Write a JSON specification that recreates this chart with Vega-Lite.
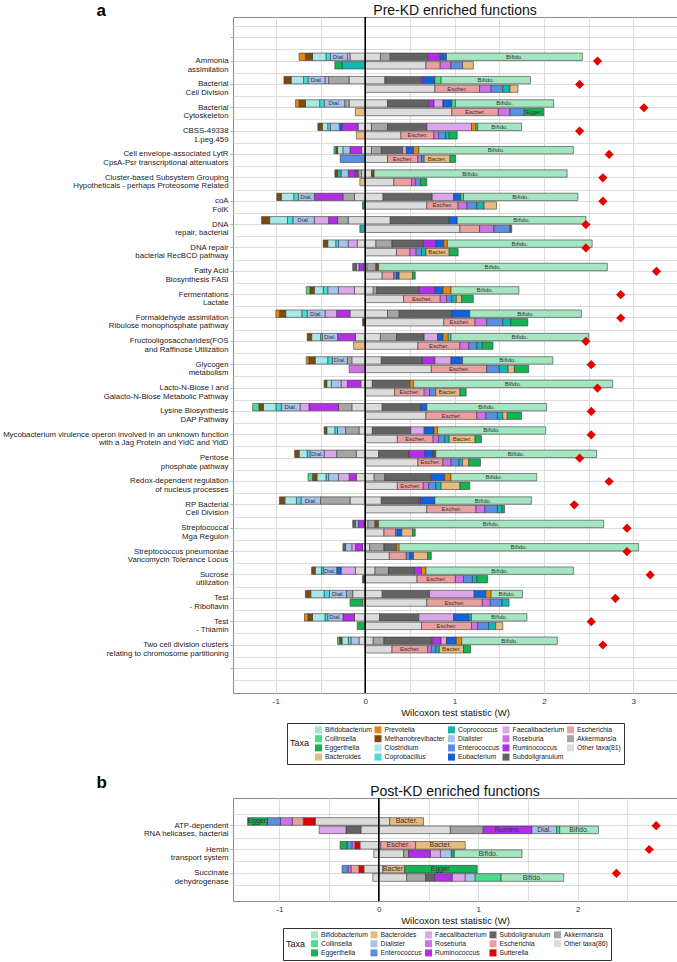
{
"$schema":"https://vega.github.io/schema/vega-lite/v6.json",
"padding":{"left":2,"top":0,"right":0,"bottom":0},
"config":{"font":"Liberation Sans","view":{"stroke":"#8c8c8c"},"title":{"fontSize":14,"fontWeight":"normal","color":"#111"}},
"datasets":{
"taxa":[{"c":"Bif","n":"Bifidobacterium"},{"c":"Col","n":"Collinsella"},{"c":"Egg","n":"Eggerthella"},{"c":"Bac","n":"Bacteroides"},{"c":"Pre","n":"Prevotella"},{"c":"Met","n":"Methanobrevibacter"},{"c":"Clo","n":"Clostridium"},{"c":"Cpb","n":"Coprobacillus"},{"c":"Cpc","n":"Coprococcus"},{"c":"Dia","n":"Dialister"},{"c":"Ent","n":"Enterococcus"},{"c":"Eub","n":"Eubacterium"},{"c":"Fae","n":"Faecalibacterium"},{"c":"Ros","n":"Roseburia"},{"c":"Rum","n":"Ruminococcus"},{"c":"Sub","n":"Subdoligranulum"},{"c":"Esc","n":"Escherichia"},{"c":"Akk","n":"Akkermansia"},{"c":"Oth","n":"Other taxa(81)"},{"c":"Ob","n":"Other taxa(86)"},{"c":"Sut","n":"Sutterella"}],
"fa":[{"f":1,"fn":"Ammonia|assimilation","w":2.6},{"f":2,"fn":"Bacterial|Cell Division","w":2.4},{"f":3,"fn":"Bacterial|Cytoskeleton","w":3.12},{"f":4,"fn":"CBSS-49338|1.peg.459","w":2.4},{"f":5,"fn":"Cell envelope-associated LytR|CpsA-Psr transcriptional attenuators","w":2.73},{"f":6,"fn":"Cluster-based Subsystem Grouping|Hypotheticals - perhaps Proteosome Related","w":2.66},{"f":7,"fn":"coA|FolK","w":2.66},{"f":8,"fn":"DNA|repair, bacterial","w":2.47},{"f":9,"fn":"DNA repair|bacterial RecBCD pathway","w":2.47},{"f":10,"fn":"Fatty Acid|Biosynthesis FASI","w":3.26},{"f":11,"fn":"Fermentations|Lactate","w":2.86},{"f":12,"fn":"Formaldehyde assimilation|Ribulose monophosphate pathway","w":2.86},{"f":13,"fn":"Fructooligosaccharides(FOS|and Raffinose Utilization","w":2.47},{"f":14,"fn":"Glycogen|metabolism","w":2.53},{"f":15,"fn":"Lacto-N-Biose I and|Galacto-N-Biose Metabolic Pathway","w":2.6},{"f":16,"fn":"Lysine Biosynthesis|DAP Pathway","w":2.53},{"f":17,"fn":"Mycobacterium virulence operon involved in an unknown function|with a Jag Protein and YidC and YidD","w":2.53},{"f":18,"fn":"Pentose|phosphate pathway","w":2.4},{"f":19,"fn":"Redox-dependent regulation|of nucleus processes","w":2.73},{"f":20,"fn":"RP Bacterial|Cell Division","w":2.34},{"f":21,"fn":"Streptococcal|Mga Regulon","w":2.93},{"f":22,"fn":"Streptococcus pneumoniae|Vancomycin Tolerance Locus","w":2.93},{"f":23,"fn":"Sucrose|utilization","w":3.19},{"f":24,"fn":"Test|- Riboflavin","w":2.8},{"f":25,"fn":"Test|- Thiamin","w":2.53},{"f":26,"fn":"Two cell division clusters|relating to chromosome partitioning","w":2.66}],
"fb":[{"f":1,"fn":"ATP-dependent|RNA helicases, bacterial","w":2.79},{"f":2,"fn":"Hemin|transport system","w":2.72},{"f":3,"fn":"Succinate|dehydrogenase","w":2.39}],
"ra":[
{"f":1,"b":"u","t":"Oth","v":-0.17},{"f":1,"b":"u","t":"Fae","v":-0.03},{"f":1,"b":"u","t":"Dia","v":-0.19,"lb":"Dial."},{"f":1,"b":"u","t":"Cpb","v":-0.05},{"f":1,"b":"u","t":"Clo","v":-0.15},{"f":1,"b":"u","t":"Met","v":-0.08},{"f":1,"b":"u","t":"Pre","v":-0.07},{"f":1,"b":"u","t":"Oth","v":0.17},{"f":1,"b":"u","t":"Akk","v":0.11},{"f":1,"b":"u","t":"Sub","v":0.42},{"f":1,"b":"u","t":"Rum","v":0.14},{"f":1,"b":"u","t":"Eub","v":0.07},{"f":1,"b":"u","t":"Bif","v":1.52,"lb":"Bifido."},
{"f":1,"b":"l","t":"Cpc","v":-0.26},{"f":1,"b":"l","t":"Egg","v":-0.08},{"f":1,"b":"l","t":"Oth","v":0.68},{"f":1,"b":"l","t":"Esc","v":0.16},{"f":1,"b":"l","t":"Ros","v":0.12},{"f":1,"b":"l","t":"Ent","v":0.13},{"f":1,"b":"l","t":"Bac","v":0.12},
{"f":2,"b":"u","t":"Oth","v":-0.18},{"f":2,"b":"u","t":"Akk","v":-0.23},{"f":2,"b":"u","t":"Fae","v":-0.04},{"f":2,"b":"u","t":"Dia","v":-0.19,"lb":"Dial."},{"f":2,"b":"u","t":"Cpb","v":-0.05},{"f":2,"b":"u","t":"Clo","v":-0.14},{"f":2,"b":"u","t":"Met","v":-0.08},{"f":2,"b":"u","t":"Oth","v":0.22},{"f":2,"b":"u","t":"Sub","v":0.41},{"f":2,"b":"u","t":"Rum","v":0.02},{"f":2,"b":"u","t":"Eub","v":0.13},{"f":2,"b":"u","t":"Col","v":0.07},{"f":2,"b":"u","t":"Bif","v":1.0,"lb":"Bifido."},
{"f":2,"b":"l","t":"Oth","v":0.78},{"f":2,"b":"l","t":"Esc","v":0.5,"lb":"Escher."},{"f":2,"b":"l","t":"Ros","v":0.13},{"f":2,"b":"l","t":"Ent","v":0.13},{"f":2,"b":"l","t":"Cpc","v":0.08},{"f":2,"b":"l","t":"Bac","v":0.09},
{"f":3,"b":"u","t":"Oth","v":-0.18},{"f":3,"b":"u","t":"Akk","v":-0.05},{"f":3,"b":"u","t":"Dia","v":-0.23,"lb":"Dial."},{"f":3,"b":"u","t":"Cpb","v":-0.05},{"f":3,"b":"u","t":"Clo","v":-0.16},{"f":3,"b":"u","t":"Met","v":-0.07},{"f":3,"b":"u","t":"Pre","v":-0.04},{"f":3,"b":"u","t":"Oth","v":0.25},{"f":3,"b":"u","t":"Sub","v":0.46},{"f":3,"b":"u","t":"Rum","v":0.06},{"f":3,"b":"u","t":"Fae","v":0.1},{"f":3,"b":"u","t":"Eub","v":0.1},{"f":3,"b":"u","t":"Col","v":0.04},{"f":3,"b":"u","t":"Bif","v":1.1,"lb":"Bifido."},
{"f":3,"b":"l","t":"Bac","v":-0.11},{"f":3,"b":"l","t":"Oth","v":0.97},{"f":3,"b":"l","t":"Esc","v":0.52,"lb":"Escher."},{"f":3,"b":"l","t":"Ros","v":0.13},{"f":3,"b":"l","t":"Ent","v":0.16},{"f":3,"b":"l","t":"Egg","v":0.22,"lb":"Egger."},
{"f":4,"b":"u","t":"Oth","v":-0.08},{"f":4,"b":"u","t":"Rum","v":-0.18},{"f":4,"b":"u","t":"Eub","v":-0.03},{"f":4,"b":"u","t":"Dia","v":-0.1},{"f":4,"b":"u","t":"Cpb","v":-0.03},{"f":4,"b":"u","t":"Clo","v":-0.06},{"f":4,"b":"u","t":"Met","v":-0.05},{"f":4,"b":"u","t":"Oth","v":0.07},{"f":4,"b":"u","t":"Akk","v":0.18},{"f":4,"b":"u","t":"Sub","v":0.44},{"f":4,"b":"u","t":"Fae","v":0.5},{"f":4,"b":"u","t":"Pre","v":0.05},{"f":4,"b":"u","t":"Col","v":0.02},{"f":4,"b":"u","t":"Bif","v":0.49,"lb":"Bifido."},
{"f":4,"b":"l","t":"Bac","v":-0.1},{"f":4,"b":"l","t":"Oth","v":0.4},{"f":4,"b":"l","t":"Esc","v":0.37,"lb":"Escher."},{"f":4,"b":"l","t":"Ros","v":0.05},{"f":4,"b":"l","t":"Ent","v":0.08},{"f":4,"b":"l","t":"Cpc","v":0.04},{"f":4,"b":"l","t":"Egg","v":0.09},
{"f":5,"b":"u","t":"Oth","v":-0.04},{"f":5,"b":"u","t":"Rum","v":-0.13},{"f":5,"b":"u","t":"Dia","v":-0.08},{"f":5,"b":"u","t":"Clo","v":-0.06},{"f":5,"b":"u","t":"Met","v":-0.02},{"f":5,"b":"u","t":"Col","v":-0.02},{"f":5,"b":"u","t":"Oth","v":0.07},{"f":5,"b":"u","t":"Akk","v":0.11},{"f":5,"b":"u","t":"Sub","v":0.24},{"f":5,"b":"u","t":"Fae","v":0.04},{"f":5,"b":"u","t":"Eub","v":0.08},{"f":5,"b":"u","t":"Pre","v":0.06},{"f":5,"b":"u","t":"Bif","v":1.73,"lb":"Bifido."},
{"f":5,"b":"l","t":"Ent","v":-0.28},{"f":5,"b":"l","t":"Oth","v":0.25},{"f":5,"b":"l","t":"Esc","v":0.34,"lb":"Escher."},{"f":5,"b":"l","t":"Ros","v":0.04},{"f":5,"b":"l","t":"Cpc","v":0.03},{"f":5,"b":"l","t":"Bac","v":0.29,"lb":"Bacter."},{"f":5,"b":"l","t":"Egg","v":0.06},
{"f":6,"b":"u","t":"Oth","v":-0.04},{"f":6,"b":"u","t":"Akk","v":-0.04},{"f":6,"b":"u","t":"Sub","v":-0.03},{"f":6,"b":"u","t":"Rum","v":-0.08},{"f":6,"b":"u","t":"Dia","v":-0.08},{"f":6,"b":"u","t":"Cpc","v":-0.04},{"f":6,"b":"u","t":"Met","v":-0.03},{"f":6,"b":"u","t":"Oth","v":0.07},{"f":6,"b":"u","t":"Met","v":0.03},{"f":6,"b":"u","t":"Bif","v":2.16,"lb":"Bifido."},
{"f":6,"b":"l","t":"Bac","v":-0.06},{"f":6,"b":"l","t":"Oth","v":0.32},{"f":6,"b":"l","t":"Esc","v":0.2},{"f":6,"b":"l","t":"Ros","v":0.04},{"f":6,"b":"l","t":"Ent","v":0.06},{"f":6,"b":"l","t":"Egg","v":0.07},
{"f":7,"b":"u","t":"Oth","v":-0.12},{"f":7,"b":"u","t":"Akk","v":-0.13},{"f":7,"b":"u","t":"Rum","v":-0.32},{"f":7,"b":"u","t":"Dia","v":-0.18,"lb":"Dial."},{"f":7,"b":"u","t":"Cpb","v":-0.05},{"f":7,"b":"u","t":"Clo","v":-0.14},{"f":7,"b":"u","t":"Met","v":-0.05},{"f":7,"b":"u","t":"Oth","v":0.2},{"f":7,"b":"u","t":"Sub","v":0.55},{"f":7,"b":"u","t":"Fae","v":0.24},{"f":7,"b":"u","t":"Eub","v":0.08},{"f":7,"b":"u","t":"Col","v":0.03},{"f":7,"b":"u","t":"Bif","v":1.28,"lb":"Bifido."},
{"f":7,"b":"l","t":"Egg","v":-0.03},{"f":7,"b":"l","t":"Oth","v":0.69},{"f":7,"b":"l","t":"Esc","v":0.35,"lb":"Escher."},{"f":7,"b":"l","t":"Ros","v":0.1},{"f":7,"b":"l","t":"Ent","v":0.11},{"f":7,"b":"l","t":"Cpc","v":0.08},{"f":7,"b":"l","t":"Bac","v":0.14},
{"f":8,"b":"u","t":"Oth","v":-0.19},{"f":8,"b":"u","t":"Akk","v":-0.12},{"f":8,"b":"u","t":"Rum","v":-0.1},{"f":8,"b":"u","t":"Fae","v":-0.16},{"f":8,"b":"u","t":"Dia","v":-0.24,"lb":"Dial."},{"f":8,"b":"u","t":"Cpb","v":-0.06},{"f":8,"b":"u","t":"Clo","v":-0.2},{"f":8,"b":"u","t":"Met","v":-0.09},{"f":8,"b":"u","t":"Oth","v":0.28},{"f":8,"b":"u","t":"Sub","v":0.66},{"f":8,"b":"u","t":"Eub","v":0.09},{"f":8,"b":"u","t":"Bif","v":1.44,"lb":"Bifido."},
{"f":8,"b":"l","t":"Cpc","v":-0.06},{"f":8,"b":"l","t":"Oth","v":1.06},{"f":8,"b":"l","t":"Esc","v":0.22},{"f":8,"b":"l","t":"Ros","v":0.16},{"f":8,"b":"l","t":"Ent","v":0.18},{"f":8,"b":"l","t":"Sub","v":0.02},
{"f":9,"b":"u","t":"Oth","v":-0.09},{"f":9,"b":"u","t":"Fae","v":-0.1},{"f":9,"b":"u","t":"Dia","v":-0.11},{"f":9,"b":"u","t":"Cpb","v":-0.03},{"f":9,"b":"u","t":"Clo","v":-0.09},{"f":9,"b":"u","t":"Met","v":-0.05},{"f":9,"b":"u","t":"Oth","v":0.12},{"f":9,"b":"u","t":"Akk","v":0.18},{"f":9,"b":"u","t":"Sub","v":0.35},{"f":9,"b":"u","t":"Rum","v":0.14},{"f":9,"b":"u","t":"Eub","v":0.09},{"f":9,"b":"u","t":"Pre","v":0.04},{"f":9,"b":"u","t":"Bif","v":1.62,"lb":"Bifido."},
{"f":9,"b":"l","t":"Oth","v":0.35},{"f":9,"b":"l","t":"Esc","v":0.15},{"f":9,"b":"l","t":"Ros","v":0.07},{"f":9,"b":"l","t":"Ent","v":0.06},{"f":9,"b":"l","t":"Cpc","v":0.05},{"f":9,"b":"l","t":"Bac","v":0.26,"lb":"Bacter."},{"f":9,"b":"l","t":"Egg","v":0.1},
{"f":10,"b":"u","t":"Oth","v":-0.02},{"f":10,"b":"u","t":"Rum","v":-0.05},{"f":10,"b":"u","t":"Dia","v":-0.03},{"f":10,"b":"u","t":"Sub","v":-0.04},{"f":10,"b":"u","t":"Oth","v":0.02},{"f":10,"b":"u","t":"Akk","v":0.1},{"f":10,"b":"u","t":"Met","v":0.03},{"f":10,"b":"u","t":"Bif","v":2.56,"lb":"Bifido."},
{"f":10,"b":"l","t":"Oth","v":0.19},{"f":10,"b":"l","t":"Esc","v":0.13},{"f":10,"b":"l","t":"Ent","v":0.03},{"f":10,"b":"l","t":"Eub","v":0.03},{"f":10,"b":"l","t":"Bac","v":0.15},{"f":10,"b":"l","t":"Egg","v":0.03},
{"f":11,"b":"u","t":"Oth","v":-0.12},{"f":11,"b":"u","t":"Fae","v":-0.18},{"f":11,"b":"u","t":"Dia","v":-0.12},{"f":11,"b":"u","t":"Cpb","v":-0.05},{"f":11,"b":"u","t":"Clo","v":-0.1},{"f":11,"b":"u","t":"Met","v":-0.05},{"f":11,"b":"u","t":"Col","v":-0.04},{"f":11,"b":"u","t":"Oth","v":0.09},{"f":11,"b":"u","t":"Akk","v":0.04},{"f":11,"b":"u","t":"Sub","v":0.47},{"f":11,"b":"u","t":"Rum","v":0.18},{"f":11,"b":"u","t":"Eub","v":0.09},{"f":11,"b":"u","t":"Pre","v":0.09},{"f":11,"b":"u","t":"Bif","v":0.76,"lb":"Bifido."},
{"f":11,"b":"l","t":"Oth","v":0.43},{"f":11,"b":"l","t":"Esc","v":0.41,"lb":"Escher."},{"f":11,"b":"l","t":"Ros","v":0.07},{"f":11,"b":"l","t":"Ent","v":0.06},{"f":11,"b":"l","t":"Cpc","v":0.05},{"f":11,"b":"l","t":"Bac","v":0.06},{"f":11,"b":"l","t":"Egg","v":0.13},
{"f":12,"b":"u","t":"Oth","v":-0.17},{"f":12,"b":"u","t":"Rum","v":-0.15},{"f":12,"b":"u","t":"Fae","v":-0.13},{"f":12,"b":"u","t":"Dia","v":-0.2,"lb":"Dial."},{"f":12,"b":"u","t":"Cpb","v":-0.06},{"f":12,"b":"u","t":"Clo","v":-0.18},{"f":12,"b":"u","t":"Met","v":-0.07},{"f":12,"b":"u","t":"Pre","v":-0.04},{"f":12,"b":"u","t":"Oth","v":0.25},{"f":12,"b":"u","t":"Akk","v":0.13},{"f":12,"b":"u","t":"Sub","v":0.59},{"f":12,"b":"u","t":"Eub","v":0.2},{"f":12,"b":"u","t":"Bif","v":1.25,"lb":"Bifido."},
{"f":12,"b":"l","t":"Met","v":-0.03},{"f":12,"b":"l","t":"Oth","v":0.88},{"f":12,"b":"l","t":"Esc","v":0.35,"lb":"Escher."},{"f":12,"b":"l","t":"Ros","v":0.13},{"f":12,"b":"l","t":"Ent","v":0.18},{"f":12,"b":"l","t":"Cpc","v":0.09},{"f":12,"b":"l","t":"Egg","v":0.19},
{"f":13,"b":"u","t":"Oth","v":-0.11},{"f":13,"b":"u","t":"Rum","v":-0.2},{"f":13,"b":"u","t":"Dia","v":-0.17,"lb":"Dial."},{"f":13,"b":"u","t":"Cpb","v":-0.02},{"f":13,"b":"u","t":"Clo","v":-0.1},{"f":13,"b":"u","t":"Met","v":-0.05},{"f":13,"b":"u","t":"Oth","v":0.17},{"f":13,"b":"u","t":"Akk","v":0.18},{"f":13,"b":"u","t":"Sub","v":0.31},{"f":13,"b":"u","t":"Fae","v":0.15},{"f":13,"b":"u","t":"Eub","v":0.06},{"f":13,"b":"u","t":"Pre","v":0.06},{"f":13,"b":"u","t":"Col","v":0.03},{"f":13,"b":"u","t":"Bif","v":1.54,"lb":"Bifido."},
{"f":13,"b":"l","t":"Bac","v":-0.13},{"f":13,"b":"l","t":"Oth","v":0.59},{"f":13,"b":"l","t":"Esc","v":0.47,"lb":"Escher."},{"f":13,"b":"l","t":"Ros","v":0.1},{"f":13,"b":"l","t":"Ent","v":0.09},{"f":13,"b":"l","t":"Cpc","v":0.06},{"f":13,"b":"l","t":"Egg","v":0.12},
{"f":14,"b":"u","t":"Oth","v":-0.15},{"f":14,"b":"u","t":"Akk","v":-0.05},{"f":14,"b":"u","t":"Dia","v":-0.17,"lb":"Dial."},{"f":14,"b":"u","t":"Cpb","v":-0.05},{"f":14,"b":"u","t":"Clo","v":-0.14},{"f":14,"b":"u","t":"Met","v":-0.07},{"f":14,"b":"u","t":"Pre","v":-0.03},{"f":14,"b":"u","t":"Oth","v":0.18},{"f":14,"b":"u","t":"Sub","v":0.46},{"f":14,"b":"u","t":"Rum","v":0.14},{"f":14,"b":"u","t":"Fae","v":0.18},{"f":14,"b":"u","t":"Eub","v":0.13},{"f":14,"b":"u","t":"Bif","v":1.01,"lb":"Bifido."},
{"f":14,"b":"l","t":"Ros","v":-0.18},{"f":14,"b":"l","t":"Oth","v":0.74},{"f":14,"b":"l","t":"Esc","v":0.62,"lb":"Escher."},{"f":14,"b":"l","t":"Ent","v":0.14},{"f":14,"b":"l","t":"Cpc","v":0.1},{"f":14,"b":"l","t":"Bac","v":0.07},{"f":14,"b":"l","t":"Egg","v":0.16},
{"f":15,"b":"u","t":"Oth","v":-0.05},{"f":15,"b":"u","t":"Rum","v":-0.15},{"f":15,"b":"u","t":"Fae","v":-0.07},{"f":15,"b":"u","t":"Dia","v":-0.11},{"f":15,"b":"u","t":"Clo","v":-0.05},{"f":15,"b":"u","t":"Met","v":-0.03},{"f":15,"b":"u","t":"Oth","v":0.08},{"f":15,"b":"u","t":"Sub","v":0.42},{"f":15,"b":"u","t":"Pre","v":0.04},{"f":15,"b":"u","t":"Bif","v":2.23,"lb":"Bifido."},
{"f":15,"b":"l","t":"Oth","v":0.33},{"f":15,"b":"l","t":"Esc","v":0.33,"lb":"Escher."},{"f":15,"b":"l","t":"Ros","v":0.06},{"f":15,"b":"l","t":"Ent","v":0.07},{"f":15,"b":"l","t":"Bac","v":0.27,"lb":"Bacter."},{"f":15,"b":"l","t":"Egg","v":0.07},
{"f":16,"b":"u","t":"Oth","v":-0.15},{"f":16,"b":"u","t":"Akk","v":-0.15},{"f":16,"b":"u","t":"Rum","v":-0.33},{"f":16,"b":"u","t":"Fae","v":-0.1},{"f":16,"b":"u","t":"Dia","v":-0.21,"lb":"Dial."},{"f":16,"b":"u","t":"Cpb","v":-0.06},{"f":16,"b":"u","t":"Clo","v":-0.14},{"f":16,"b":"u","t":"Met","v":-0.05},{"f":16,"b":"u","t":"Col","v":-0.07},{"f":16,"b":"u","t":"Oth","v":0.19},{"f":16,"b":"u","t":"Sub","v":0.43},{"f":16,"b":"u","t":"Eub","v":0.07},{"f":16,"b":"u","t":"Bif","v":1.34,"lb":"Bifido."},
{"f":16,"b":"l","t":"Oth","v":0.68},{"f":16,"b":"l","t":"Esc","v":0.57,"lb":"Escher."},{"f":16,"b":"l","t":"Ros","v":0.1},{"f":16,"b":"l","t":"Ent","v":0.13},{"f":16,"b":"l","t":"Cpc","v":0.06},{"f":16,"b":"l","t":"Bac","v":0.05},{"f":16,"b":"l","t":"Egg","v":0.16},
{"f":17,"b":"u","t":"Oth","v":-0.07},{"f":17,"b":"u","t":"Akk","v":-0.15},{"f":17,"b":"u","t":"Dia","v":-0.09},{"f":17,"b":"u","t":"Cpb","v":-0.03},{"f":17,"b":"u","t":"Clo","v":-0.09},{"f":17,"b":"u","t":"Met","v":-0.03},{"f":17,"b":"u","t":"Oth","v":0.08},{"f":17,"b":"u","t":"Sub","v":0.43},{"f":17,"b":"u","t":"Fae","v":0.15},{"f":17,"b":"u","t":"Eub","v":0.11},{"f":17,"b":"u","t":"Pre","v":0.04},{"f":17,"b":"u","t":"Bif","v":1.21,"lb":"Bifido."},
{"f":17,"b":"l","t":"Oth","v":0.36},{"f":17,"b":"l","t":"Esc","v":0.4,"lb":"Escher."},{"f":17,"b":"l","t":"Ros","v":0.06},{"f":17,"b":"l","t":"Ent","v":0.07},{"f":17,"b":"l","t":"Cpc","v":0.05},{"f":17,"b":"l","t":"Bac","v":0.29,"lb":"Bacter."},{"f":17,"b":"l","t":"Egg","v":0.07},
{"f":18,"b":"u","t":"Oth","v":-0.1},{"f":18,"b":"u","t":"Akk","v":-0.22},{"f":18,"b":"u","t":"Fae","v":-0.14},{"f":18,"b":"u","t":"Dia","v":-0.16,"lb":"Dial."},{"f":18,"b":"u","t":"Cpb","v":-0.03},{"f":18,"b":"u","t":"Clo","v":-0.09},{"f":18,"b":"u","t":"Met","v":-0.05},{"f":18,"b":"u","t":"Oth","v":0.15},{"f":18,"b":"u","t":"Sub","v":0.34},{"f":18,"b":"u","t":"Rum","v":0.18},{"f":18,"b":"u","t":"Eub","v":0.09},{"f":18,"b":"u","t":"Met","v":0.03},{"f":18,"b":"u","t":"Bif","v":1.8,"lb":"Bifido."},
{"f":18,"b":"l","t":"Oth","v":0.59},{"f":18,"b":"l","t":"Esc","v":0.28,"lb":"Escher."},{"f":18,"b":"l","t":"Ros","v":0.09},{"f":18,"b":"l","t":"Ent","v":0.09},{"f":18,"b":"l","t":"Cpc","v":0.04},{"f":18,"b":"l","t":"Bac","v":0.07},{"f":18,"b":"l","t":"Egg","v":0.13},
{"f":19,"b":"u","t":"Oth","v":-0.1},{"f":19,"b":"u","t":"Rum","v":-0.08},{"f":19,"b":"u","t":"Fae","v":-0.12},{"f":19,"b":"u","t":"Dia","v":-0.11},{"f":19,"b":"u","t":"Cpb","v":-0.03},{"f":19,"b":"u","t":"Clo","v":-0.1},{"f":19,"b":"u","t":"Met","v":-0.05},{"f":19,"b":"u","t":"Col","v":-0.05},{"f":19,"b":"u","t":"Oth","v":0.1},{"f":19,"b":"u","t":"Akk","v":0.12},{"f":19,"b":"u","t":"Sub","v":0.52},{"f":19,"b":"u","t":"Eub","v":0.15},{"f":19,"b":"u","t":"Pre","v":0.07},{"f":19,"b":"u","t":"Bif","v":0.96,"lb":"Bifido."},
{"f":19,"b":"l","t":"Oth","v":0.36},{"f":19,"b":"l","t":"Esc","v":0.29,"lb":"Escher."},{"f":19,"b":"l","t":"Ros","v":0.06},{"f":19,"b":"l","t":"Ent","v":0.08},{"f":19,"b":"l","t":"Cpc","v":0.06},{"f":19,"b":"l","t":"Bac","v":0.21},{"f":19,"b":"l","t":"Egg","v":0.11},
{"f":20,"b":"u","t":"Oth","v":-0.17},{"f":20,"b":"u","t":"Akk","v":-0.33},{"f":20,"b":"u","t":"Dia","v":-0.22,"lb":"Dial."},{"f":20,"b":"u","t":"Cpb","v":-0.05},{"f":20,"b":"u","t":"Clo","v":-0.13},{"f":20,"b":"u","t":"Met","v":-0.06},{"f":20,"b":"u","t":"Oth","v":0.18},{"f":20,"b":"u","t":"Sub","v":0.42},{"f":20,"b":"u","t":"Rum","v":0.02},{"f":20,"b":"u","t":"Eub","v":0.16},{"f":20,"b":"u","t":"Bif","v":1.08,"lb":"Bifido."},
{"f":20,"b":"l","t":"Oth","v":0.69},{"f":20,"b":"l","t":"Esc","v":0.55,"lb":"Escher."},{"f":20,"b":"l","t":"Ros","v":0.1},{"f":20,"b":"l","t":"Ent","v":0.14},{"f":20,"b":"l","t":"Cpc","v":0.05},{"f":20,"b":"l","t":"Egg","v":0.03},
{"f":21,"b":"u","t":"Oth","v":-0.01},{"f":21,"b":"u","t":"Rum","v":-0.07},{"f":21,"b":"u","t":"Dia","v":-0.03},{"f":21,"b":"u","t":"Sub","v":-0.03},{"f":21,"b":"u","t":"Oth","v":0.03},{"f":21,"b":"u","t":"Akk","v":0.08},{"f":21,"b":"u","t":"Met","v":0.04},{"f":21,"b":"u","t":"Bif","v":2.52,"lb":"Bifido."},
{"f":21,"b":"l","t":"Oth","v":0.21},{"f":21,"b":"l","t":"Esc","v":0.13},{"f":21,"b":"l","t":"Ent","v":0.02},{"f":21,"b":"l","t":"Eub","v":0.05},{"f":21,"b":"l","t":"Bac","v":0.12},{"f":21,"b":"l","t":"Egg","v":0.03},
{"f":22,"b":"u","t":"Oth","v":-0.03},{"f":22,"b":"u","t":"Rum","v":-0.08},{"f":22,"b":"u","t":"Fae","v":-0.04},{"f":22,"b":"u","t":"Dia","v":-0.07},{"f":22,"b":"u","t":"Sub","v":-0.03},{"f":22,"b":"u","t":"Oth","v":0.05},{"f":22,"b":"u","t":"Akk","v":0.16},{"f":22,"b":"u","t":"Sub","v":0.14},{"f":22,"b":"u","t":"Pre","v":0.03},{"f":22,"b":"u","t":"Bif","v":2.68,"lb":"Bifido."},
{"f":22,"b":"l","t":"Oth","v":0.27},{"f":22,"b":"l","t":"Esc","v":0.19},{"f":22,"b":"l","t":"Ent","v":0.04},{"f":22,"b":"l","t":"Eub","v":0.04},{"f":22,"b":"l","t":"Bac","v":0.16},{"f":22,"b":"l","t":"Egg","v":0.04},
{"f":23,"b":"u","t":"Oth","v":-0.11},{"f":23,"b":"u","t":"Fae","v":-0.16},{"f":23,"b":"u","t":"Eub","v":-0.05},{"f":23,"b":"u","t":"Dia","v":-0.15,"lb":"Dial."},{"f":23,"b":"u","t":"Cpb","v":-0.02},{"f":23,"b":"u","t":"Clo","v":-0.07},{"f":23,"b":"u","t":"Met","v":-0.04},{"f":23,"b":"u","t":"Oth","v":0.11},{"f":23,"b":"u","t":"Akk","v":0.15},{"f":23,"b":"u","t":"Sub","v":0.29},{"f":23,"b":"u","t":"Rum","v":0.08},{"f":23,"b":"u","t":"Pre","v":0.05},{"f":23,"b":"u","t":"Bif","v":1.65,"lb":"Bifido."},
{"f":23,"b":"l","t":"Met","v":-0.03},{"f":23,"b":"l","t":"Oth","v":0.58},{"f":23,"b":"l","t":"Esc","v":0.43,"lb":"Escher."},{"f":23,"b":"l","t":"Ros","v":0.09},{"f":23,"b":"l","t":"Ent","v":0.1},{"f":23,"b":"l","t":"Cpc","v":0.05},{"f":23,"b":"l","t":"Egg","v":0.12},
{"f":24,"b":"u","t":"Oth","v":-0.14},{"f":24,"b":"u","t":"Akk","v":-0.07},{"f":24,"b":"u","t":"Dia","v":-0.19,"lb":"Dial."},{"f":24,"b":"u","t":"Cpb","v":-0.06},{"f":24,"b":"u","t":"Clo","v":-0.15},{"f":24,"b":"u","t":"Met","v":-0.06},{"f":24,"b":"u","t":"Oth","v":0.19},{"f":24,"b":"u","t":"Sub","v":0.53},{"f":24,"b":"u","t":"Fae","v":0.5},{"f":24,"b":"u","t":"Eub","v":0.13},{"f":24,"b":"u","t":"Pre","v":0.06},{"f":24,"b":"u","t":"Bif","v":0.35,"lb":"Bifido."},
{"f":24,"b":"l","t":"Bac","v":-0.03},{"f":24,"b":"l","t":"Egg","v":-0.14},{"f":24,"b":"l","t":"Oth","v":0.69},{"f":24,"b":"l","t":"Esc","v":0.62,"lb":"Escher."},{"f":24,"b":"l","t":"Ros","v":0.09},{"f":24,"b":"l","t":"Ent","v":0.13},{"f":24,"b":"l","t":"Cpc","v":0.08},
{"f":25,"b":"u","t":"Oth","v":-0.12},{"f":25,"b":"u","t":"Rum","v":-0.13},{"f":25,"b":"u","t":"Dia","v":-0.17,"lb":"Dial."},{"f":25,"b":"u","t":"Cpb","v":-0.03},{"f":25,"b":"u","t":"Clo","v":-0.14},{"f":25,"b":"u","t":"Met","v":-0.05},{"f":25,"b":"u","t":"Pre","v":-0.04},{"f":25,"b":"u","t":"Oth","v":0.16},{"f":25,"b":"u","t":"Sub","v":0.44},{"f":25,"b":"u","t":"Fae","v":0.39},{"f":25,"b":"u","t":"Eub","v":0.17},{"f":25,"b":"u","t":"Cpc","v":0.03},{"f":25,"b":"u","t":"Bif","v":0.62,"lb":"Bifido."},
{"f":25,"b":"l","t":"Egg","v":-0.09},{"f":25,"b":"l","t":"Oth","v":0.63},{"f":25,"b":"l","t":"Esc","v":0.56,"lb":"Escher."},{"f":25,"b":"l","t":"Ros","v":0.07},{"f":25,"b":"l","t":"Ent","v":0.12},{"f":25,"b":"l","t":"Cpc","v":0.08},{"f":25,"b":"l","t":"Bac","v":0.08},
{"f":26,"b":"u","t":"Oth","v":-0.07},{"f":26,"b":"u","t":"Dia","v":-0.09},{"f":26,"b":"u","t":"Cpb","v":-0.03},{"f":26,"b":"u","t":"Clo","v":-0.07},{"f":26,"b":"u","t":"Met","v":-0.03},{"f":26,"b":"u","t":"Col","v":-0.02},{"f":26,"b":"u","t":"Oth","v":0.09},{"f":26,"b":"u","t":"Akk","v":0.12},{"f":26,"b":"u","t":"Sub","v":0.54},{"f":26,"b":"u","t":"Rum","v":0.1},{"f":26,"b":"u","t":"Fae","v":0.06},{"f":26,"b":"u","t":"Eub","v":0.11},{"f":26,"b":"u","t":"Pre","v":0.06},{"f":26,"b":"u","t":"Bif","v":1.07,"lb":"Bifido."},
{"f":26,"b":"l","t":"Oth","v":0.3},{"f":26,"b":"l","t":"Esc","v":0.4,"lb":"Escher."},{"f":26,"b":"l","t":"Ros","v":0.04},{"f":26,"b":"l","t":"Ent","v":0.05},{"f":26,"b":"l","t":"Cpc","v":0.04},{"f":26,"b":"l","t":"Bac","v":0.27,"lb":"Bacter."},{"f":26,"b":"l","t":"Egg","v":0.08}
],
"rb":[
{"f":1,"b":"u","t":"Ob","v":-0.64},{"f":1,"b":"u","t":"Sut","v":-0.12},{"f":1,"b":"u","t":"Esc","v":-0.11},{"f":1,"b":"u","t":"Ros","v":-0.12},{"f":1,"b":"u","t":"Ent","v":-0.13},{"f":1,"b":"u","t":"Egg","v":-0.2,"lb":"Egger."},{"f":1,"b":"u","t":"Ob","v":0.11},{"f":1,"b":"u","t":"Bac","v":0.34,"lb":"Bacter."},
{"f":1,"b":"l","t":"Ob","v":-0.18},{"f":1,"b":"l","t":"Sub","v":-0.15},{"f":1,"b":"l","t":"Fae","v":-0.27},{"f":1,"b":"l","t":"Ob","v":0.72},{"f":1,"b":"l","t":"Akk","v":0.33},{"f":1,"b":"l","t":"Rum","v":0.49,"lb":"Rumino."},{"f":1,"b":"l","t":"Dia","v":0.25,"lb":"Dial."},{"f":1,"b":"l","t":"Col","v":0.03},{"f":1,"b":"l","t":"Bif","v":0.39,"lb":"Bifido."},
{"f":2,"b":"u","t":"Ob","v":-0.19},{"f":2,"b":"u","t":"Sut","v":-0.05},{"f":2,"b":"u","t":"Ros","v":-0.03},{"f":2,"b":"u","t":"Ent","v":-0.05},{"f":2,"b":"u","t":"Egg","v":-0.07},{"f":2,"b":"u","t":"Ob","v":0.02},{"f":2,"b":"u","t":"Esc","v":0.35,"lb":"Escher."},{"f":2,"b":"u","t":"Bac","v":0.5,"lb":"Bacter."},
{"f":2,"b":"l","t":"Ob","v":-0.05},{"f":2,"b":"l","t":"Ob","v":0.25},{"f":2,"b":"l","t":"Akk","v":0.05},{"f":2,"b":"l","t":"Rum","v":0.22},{"f":2,"b":"l","t":"Fae","v":0.1},{"f":2,"b":"l","t":"Dia","v":0.11},{"f":2,"b":"l","t":"Egg","v":0.03},{"f":2,"b":"l","t":"Bif","v":0.68,"lb":"Bifido."},
{"f":3,"b":"u","t":"Ob","v":-0.15},{"f":3,"b":"u","t":"Sut","v":-0.05},{"f":3,"b":"u","t":"Esc","v":-0.08},{"f":3,"b":"u","t":"Ros","v":-0.03},{"f":3,"b":"u","t":"Ent","v":-0.06},{"f":3,"b":"u","t":"Ob","v":0.04},{"f":3,"b":"u","t":"Bac","v":0.22,"lb":"Bacter."},{"f":3,"b":"u","t":"Egg","v":0.73,"lb":"Egger."},
{"f":3,"b":"l","t":"Ob","v":-0.06},{"f":3,"b":"l","t":"Ob","v":0.28},{"f":3,"b":"l","t":"Akk","v":0.19},{"f":3,"b":"l","t":"Sub","v":0.09},{"f":3,"b":"l","t":"Rum","v":0.18},{"f":3,"b":"l","t":"Fae","v":0.13},{"f":3,"b":"l","t":"Dia","v":0.1},{"f":3,"b":"l","t":"Col","v":0.26},{"f":3,"b":"l","t":"Bif","v":0.63,"lb":"Bifido."}
]
},
"spacing":7,
"resolve":{"scale":{"color":"independent","x":"independent","y":"independent","yOffset":"independent"},"legend":{"color":"independent"}},
"vconcat":[
{
"width":444,"height":676,
"title":{"text":"Pre-KD enriched functions","offset":-16.5,"anchor":"middle"},
"resolve":{"axis":{"y":"independent"}},
"layer":[
{
"data":{"name":"ra"},
"transform":[
{"lookup":"f","from":{"data":{"name":"fa"},"key":"f","fields":["fn"]}},
{"lookup":"t","from":{"data":{"name":"taxa"},"key":"c","fields":["n"]}},
{"stack":"v","groupby":["f","b"],"as":["s0","s1"]}
],
"mark":{"type":"bar","stroke":"#3a3a3a","strokeWidth":0.6},
"encoding":{
"y":{"field":"fn","type":"nominal","title":"a",
"scale":{"domain":[" ","Ammonia|assimilation","Bacterial|Cell Division","Bacterial|Cytoskeleton","CBSS-49338|1.peg.459","Cell envelope-associated LytR|CpsA-Psr transcriptional attenuators","Cluster-based Subsystem Grouping|Hypotheticals - perhaps Proteosome Related","coA|FolK","DNA|repair, bacterial","DNA repair|bacterial RecBCD pathway","Fatty Acid|Biosynthesis FASI","Fermentations|Lactate","Formaldehyde assimilation|Ribulose monophosphate pathway","Fructooligosaccharides(FOS|and Raffinose Utilization","Glycogen|metabolism","Lacto-N-Biose I and|Galacto-N-Biose Metabolic Pathway","Lysine Biosynthesis|DAP Pathway","Mycobacterium virulence operon involved in an unknown function|with a Jag Protein and YidC and YidD","Pentose|phosphate pathway","Redox-dependent regulation|of nucleus processes","RP Bacterial|Cell Division","Streptococcal|Mga Regulon","Streptococcus pneumoniae|Vancomycin Tolerance Locus","Sucrose|utilization","Test|- Riboflavin","Test|- Thiamin","Two cell division clusters|relating to chromosome partitioning","  "],"paddingInner":0,"paddingOuter":0.47,"align":0.41},
"axis":{"orient":"left","titleAngle":0,"titleX":-137,"titleY":-2,"titleAlign":"left","titleBaseline":"alphabetic","titleFontSize":17,"titleFontWeight":"bold","titleColor":"#000","labelExpr":"split(datum.label,'|')","labelFontSize":7.8,"labelLineHeight":8.5,"labelLimit":0,"labelPadding":2,"labelColor":"#1a1a1a","ticks":true,"tickSize":3,"tickColor":"#aaa","domain":false,"grid":true,"tickBand":"center","gridColor":"#dcdcdc"}},
"yOffset":{"field":"b","type":"nominal","scale":{"domain":["u","l"],"paddingInner":0.14,"paddingOuter":0.43}},
"x":{"field":"s0","type":"quantitative","title":"Wilcoxon test statistic (W)","scale":{"domain":[-1.48,3.49],"nice":false,"zero":false},
"axis":{"values":[-1,-0.5,0,0.5,1,1.5,2,2.5,3],"labelExpr":"datum.value % 1 === 0 ? toString(datum.value) : ''","grid":true,"gridColor":"#dcdcdc","ticks":false,"domain":false,"labelFontSize":8,"labelPadding":4,"labelColor":"#333","titleFontSize":9.5,"titleFontWeight":"normal","titlePadding":2,"titleColor":"#111"}},
"x2":{"field":"s1"},
"color":{"field":"n","type":"nominal",
"scale":{"domain":["Bifidobacterium","Collinsella","Eggerthella","Bacteroides","Prevotella","Methanobrevibacter","Clostridium","Coprobacillus","Coprococcus","Dialister","Enterococcus","Eubacterium","Faecalibacterium","Roseburia","Ruminococcus","Subdoligranulum","Escherichia","Akkermansia","Other taxa(81)"],
"range":["#a4e6c2","#4fdb8c","#13b454","#e9bb7e","#e8870e","#7a4b0d","#a8e8e8","#44dddd","#12b7b2","#a8c4ec","#5a8ee2","#1162de","#dca6ea","#cf72e5","#b32ee6","#636363","#eba0a0","#a6a6a6","#dcdcdc"]},
"legend":{"title":"Taxa","orient":"none","legendX":54,"legendY":706,"columns":5,"titleOrient":"left","titleAnchor":"middle","titleFontSize":9,"titleFontWeight":"normal","titleColor":"#111","symbolType":"square","symbolSize":49,"symbolStrokeWidth":0,"labelFontSize":6.8,"labelColor":"#222","labelOffset":3,"rowPadding":1.2,"columnPadding":2.5,"padding":3,"strokeColor":"#333"}}
}
},
{
"data":{"name":"ra"},
"transform":[
{"lookup":"f","from":{"data":{"name":"fa"},"key":"f","fields":["fn"]}},
{"stack":"v","groupby":["f","b"],"as":["s0","s1"]},
{"filter":"datum.lb"},
{"calculate":"(datum.s0+datum.s1)/2","as":"m"}
],
"mark":{"type":"text","fontSize":6,"color":"#333"},
"encoding":{
"y":{"field":"fn","type":"nominal","axis":null,"scale":{"domain":[" ","Ammonia|assimilation","Bacterial|Cell Division","Bacterial|Cytoskeleton","CBSS-49338|1.peg.459","Cell envelope-associated LytR|CpsA-Psr transcriptional attenuators","Cluster-based Subsystem Grouping|Hypotheticals - perhaps Proteosome Related","coA|FolK","DNA|repair, bacterial","DNA repair|bacterial RecBCD pathway","Fatty Acid|Biosynthesis FASI","Fermentations|Lactate","Formaldehyde assimilation|Ribulose monophosphate pathway","Fructooligosaccharides(FOS|and Raffinose Utilization","Glycogen|metabolism","Lacto-N-Biose I and|Galacto-N-Biose Metabolic Pathway","Lysine Biosynthesis|DAP Pathway","Mycobacterium virulence operon involved in an unknown function|with a Jag Protein and YidC and YidD","Pentose|phosphate pathway","Redox-dependent regulation|of nucleus processes","RP Bacterial|Cell Division","Streptococcal|Mga Regulon","Streptococcus pneumoniae|Vancomycin Tolerance Locus","Sucrose|utilization","Test|- Riboflavin","Test|- Thiamin","Two cell division clusters|relating to chromosome partitioning","  "],"paddingInner":0,"paddingOuter":0.47,"align":0.41}},
"yOffset":{"field":"b","type":"nominal","scale":{"domain":["u","l"],"paddingInner":0.14,"paddingOuter":0.43}},
"x":{"field":"m","type":"quantitative","title":"Wilcoxon test statistic (W)","scale":{"domain":[-1.48,3.49],"nice":false,"zero":false}},
"text":{"field":"lb"}
}
},
{
"data":{"values":[{}]},
"mark":{"type":"rule","color":"#000","strokeWidth":1.6},
"encoding":{"x":{"datum":0,"type":"quantitative","title":"Wilcoxon test statistic (W)","scale":{"domain":[-1.48,3.49],"nice":false,"zero":false}}}
},
{
"data":{"name":"fa"},
"mark":{"type":"point","shape":"diamond","filled":true,"color":"#e60000","opacity":1,"size":85},
"encoding":{
"y":{"field":"fn","type":"nominal","scale":{"domain":[" ","Ammonia|assimilation","Bacterial|Cell Division","Bacterial|Cytoskeleton","CBSS-49338|1.peg.459","Cell envelope-associated LytR|CpsA-Psr transcriptional attenuators","Cluster-based Subsystem Grouping|Hypotheticals - perhaps Proteosome Related","coA|FolK","DNA|repair, bacterial","DNA repair|bacterial RecBCD pathway","Fatty Acid|Biosynthesis FASI","Fermentations|Lactate","Formaldehyde assimilation|Ribulose monophosphate pathway","Fructooligosaccharides(FOS|and Raffinose Utilization","Glycogen|metabolism","Lacto-N-Biose I and|Galacto-N-Biose Metabolic Pathway","Lysine Biosynthesis|DAP Pathway","Mycobacterium virulence operon involved in an unknown function|with a Jag Protein and YidC and YidD","Pentose|phosphate pathway","Redox-dependent regulation|of nucleus processes","RP Bacterial|Cell Division","Streptococcal|Mga Regulon","Streptococcus pneumoniae|Vancomycin Tolerance Locus","Sucrose|utilization","Test|- Riboflavin","Test|- Thiamin","Two cell division clusters|relating to chromosome partitioning","  "],"paddingInner":0,"paddingOuter":0.47,"align":0.41},
"axis":{"orient":"right","title":null,"labels":false,"ticks":false,"domain":false,"grid":true,"tickBand":"extent","gridColor":"#dcdcdc"}},
"x":{"field":"w","type":"quantitative","title":"Wilcoxon test statistic (W)","scale":{"domain":[-1.48,3.49],"nice":false,"zero":false}}
}
}
]
},
{
"width":444,"height":103,
"title":{"text":"Post-KD enriched functions","offset":-25.5,"anchor":"middle"},
"resolve":{"axis":{"y":"independent"}},
"layer":[
{
"data":{"name":"rb"},
"transform":[
{"lookup":"f","from":{"data":{"name":"fb"},"key":"f","fields":["fn"]}},
{"lookup":"t","from":{"data":{"name":"taxa"},"key":"c","fields":["n"]}},
{"stack":"v","groupby":["f","b"],"as":["s0","s1"]}
],
"mark":{"type":"bar","stroke":"#3a3a3a","strokeWidth":0.6},
"encoding":{
"y":{"field":"fn","type":"nominal","title":"b",
"scale":{"domain":["ATP-dependent|RNA helicases, bacterial","Hemin|transport system","Succinate|dehydrogenase"],"paddingInner":0,"paddingOuter":0.66},
"axis":{"orient":"left","titleAngle":0,"titleX":-137,"titleY":-11,"titleAlign":"left","titleBaseline":"alphabetic","titleFontSize":17,"titleFontWeight":"bold","titleColor":"#000","labelExpr":"split(datum.label,'|')","labelFontSize":7.8,"labelLineHeight":8.5,"labelLimit":0,"labelPadding":2,"labelColor":"#1a1a1a","ticks":true,"tickSize":3,"tickColor":"#aaa","domain":false,"grid":true,"tickBand":"center","gridColor":"#dcdcdc"}},
"yOffset":{"field":"b","type":"nominal","scale":{"domain":["u","l"],"paddingInner":0.09,"paddingOuter":0.47}},
"x":{"field":"s0","type":"quantitative","title":"Wilcoxon test statistic (W)","scale":{"domain":[-1.467,3.0],"nice":false,"zero":false},
"axis":{"values":[-1,-0.5,0,0.5,1,1.5,2,2.5],"labelExpr":"datum.value % 1 === 0 ? toString(datum.value) : ''","grid":true,"gridColor":"#dcdcdc","ticks":false,"domain":false,"labelFontSize":8,"labelPadding":4,"labelColor":"#333","titleFontSize":9.5,"titleFontWeight":"normal","titlePadding":2,"titleColor":"#111"}},
"x2":{"field":"s1"},
"color":{"field":"n","type":"nominal",
"scale":{"domain":["Bifidobacterium","Collinsella","Eggerthella","Bacteroides","Dialister","Enterococcus","Faecalibacterium","Roseburia","Ruminococcus","Subdoligranulum","Escherichia","Sutterella","Akkermansia","Other taxa(86)"],
"range":["#a4e6c2","#4fdb8c","#13b454","#e9bb7e","#a8c4ec","#5a8ee2","#dca6ea","#cf72e5","#b32ee6","#636363","#eba0a0","#e00000","#a6a6a6","#dcdcdc"]},
"legend":{"title":"Taxa","orient":"none","legendX":50,"legendY":130,"columns":5,"titleOrient":"left","titleAnchor":"middle","titleFontSize":9,"titleFontWeight":"normal","titleColor":"#111","symbolType":"square","symbolSize":49,"symbolStrokeWidth":0,"labelFontSize":6.8,"labelColor":"#222","labelOffset":3,"rowPadding":1.2,"columnPadding":2.5,"padding":3,"strokeColor":"#333"}}
}
},
{
"data":{"name":"rb"},
"transform":[
{"lookup":"f","from":{"data":{"name":"fb"},"key":"f","fields":["fn"]}},
{"stack":"v","groupby":["f","b"],"as":["s0","s1"]},
{"filter":"datum.lb"},
{"calculate":"(datum.s0+datum.s1)/2","as":"m"}
],
"mark":{"type":"text","fontSize":7,"color":"#333"},
"encoding":{
"y":{"field":"fn","type":"nominal","axis":null,"scale":{"domain":["ATP-dependent|RNA helicases, bacterial","Hemin|transport system","Succinate|dehydrogenase"],"paddingInner":0,"paddingOuter":0.66}},
"yOffset":{"field":"b","type":"nominal","scale":{"domain":["u","l"],"paddingInner":0.09,"paddingOuter":0.47}},
"x":{"field":"m","type":"quantitative","title":"Wilcoxon test statistic (W)","scale":{"domain":[-1.467,3.0],"nice":false,"zero":false}},
"text":{"field":"lb"}
}
},
{
"data":{"values":[{}]},
"mark":{"type":"rule","color":"#000","strokeWidth":1.6},
"encoding":{"x":{"datum":0,"type":"quantitative","title":"Wilcoxon test statistic (W)","scale":{"domain":[-1.467,3.0],"nice":false,"zero":false}}}
},
{
"data":{"name":"fb"},
"mark":{"type":"point","shape":"diamond","filled":true,"color":"#e60000","opacity":1,"size":85},
"encoding":{
"y":{"field":"fn","type":"nominal","scale":{"domain":["ATP-dependent|RNA helicases, bacterial","Hemin|transport system","Succinate|dehydrogenase"],"paddingInner":0,"paddingOuter":0.66},
"axis":{"orient":"right","title":null,"labels":false,"ticks":false,"domain":false,"grid":true,"tickBand":"extent","gridColor":"#dcdcdc"}},
"x":{"field":"w","type":"quantitative","title":"Wilcoxon test statistic (W)","scale":{"domain":[-1.467,3.0],"nice":false,"zero":false}}
}
}
]
}
]
}
